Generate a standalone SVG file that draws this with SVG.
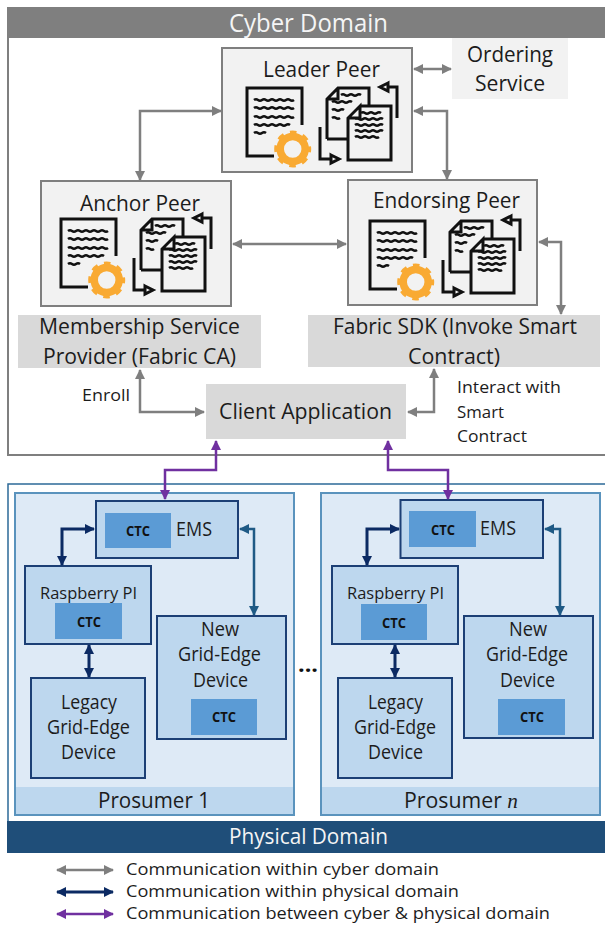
<svg xmlns="http://www.w3.org/2000/svg" width="605" height="928" viewBox="0 0 605 928">
<style>
text{font-family:"Open Sans","Noto Sans","Liberation Sans",sans-serif;fill:#1c1c1c}
.peer{fill:#f2f2f2;stroke:#7f7f7f;stroke-width:2}
.svc{fill:#d9d9d9}
.dev{fill:#bdd7ee;stroke:#1c3f75;stroke-width:2}
.ctc{fill:#5b9bd5}
.pro{fill:#deeaf6;stroke:#5a93bd;stroke-width:2}
.foot{fill:#bdd7ee}
.t20{font-size:21.500px}.t18{font-size:19.500px}.t16{font-size:17px}
.b{font-size:14px;font-weight:700;fill:#111}
.con{fill:none;stroke-width:2.5}
.g{stroke:#7f7f7f;marker-start:url(#ag);marker-end:url(#ag)}
.n{stroke:#0b2a63;marker-start:url(#an);marker-end:url(#an);stroke-width:3}
.u{stroke:#1f5a85;marker-start:url(#au);marker-end:url(#au)}
.p{stroke:#7030a0;marker-start:url(#ap);marker-end:url(#ap)}
.ink{fill:none;stroke:#111;stroke-width:3}
.wav{fill:none;stroke:#111;stroke-width:2.600}
</style>
<defs>
<marker id="ag" markerUnits="userSpaceOnUse" markerWidth="12" markerHeight="12" refX="9" refY="5" orient="auto-start-reverse"><path d="M0,0L10,5L0,10Z" fill="#7f7f7f"/></marker>
<marker id="an" markerUnits="userSpaceOnUse" markerWidth="12" markerHeight="12" refX="9" refY="5" orient="auto-start-reverse"><path d="M0,0L10,5L0,10Z" fill="#0b2a63"/></marker>
<marker id="au" markerUnits="userSpaceOnUse" markerWidth="12" markerHeight="12" refX="9" refY="5" orient="auto-start-reverse"><path d="M0,0L10,5L0,10Z" fill="#1f5a85"/></marker>
<marker id="ap" markerUnits="userSpaceOnUse" markerWidth="12" markerHeight="12" refX="9" refY="5" orient="auto-start-reverse"><path d="M0,0L10,5L0,10Z" fill="#7030a0"/></marker>
<g id="peer-icon">
<path class="ink" d="M27,68H0V0H55V37"/>
<path class="wav" d="M7,12q2,-1.500 4,0t4,0t4,0t4,0t4,0t4,0t4,0t4,0t4,0t4,0M7,20q2,-1.500 4,0t4,0t4,0t4,0t4,0t4,0t4,0t4,0t4,0t4,0M7,29q2,-1.500 4,0t4,0t4,0t4,0t4,0t4,0t4,0t4,0t4,0t4,0M7,37q2,-1.500 4,0t4,0t4,0t4,0t4,0t4,0t4,0t4,0t4,0M7,45q2,-1.500 4,0t4,0t4,0"/>
<circle cx="45.700" cy="61" r="12.500" fill="#f2f2f2" stroke="#f9aa33" stroke-width="7.500"/>
<circle cx="45.700" cy="61" r="16.500" fill="none" stroke="#f9aa33" stroke-width="4" stroke-dasharray="6.480 6.480" stroke-dashoffset="3.240"/>
<path class="ink" d="M80,51V11L91,0H122V17M80,11H91V0M80,51H101"/>
<path class="wav" d="M94,7q2,-1.500 4,0t4,0t4,0t4,0t4,0M85,14q2,-1.500 4,0t4,0t4,0t4,0t4,0M85,22q2,-1.500 4,0t4,0t4,0M85,30q2,-1.500 4,0t4,0"/>
<path class="ink" d="M113,18H144V72H101V30L113,18V30H101"/>
<path class="wav" d="M114,25q2,-1.500 4,0t4,0t4,0t4,0t4,0M108,31q2,-1.500 4,0t4,0t4,0t4,0t4,0t4,0t4,0M108,37q2,-1.500 4,0t4,0t4,0t4,0t4,0t4,0t4,0M108,43q2,-1.500 4,0t4,0t4,0t4,0t4,0t4,0t4,0M108,49q2,-1.500 4,0t4,0t4,0t4,0t4,0t4,0M110,55"/>
<path class="ink" d="M150,30V-1H141M141,-5L133,-1L141,3ZM73,39V71H84M84,67L92,71L84,75Z"/>
</g>
</defs>

<g id="cyber-domain">
<rect x="8" y="8" width="599" height="447" fill="#fff" stroke="#7f7f7f" stroke-width="2"/>
<rect x="8" y="7" width="597" height="31" fill="#7f7f7f"/>
<text x="229" y="32" font-size="25" textLength="159" lengthAdjust="spacingAndGlyphs" style="fill:#f5f5f5">Cyber Domain</text>
</g>

<g id="physical-domain">
<rect x="8" y="484" width="599" height="340" fill="#fff" stroke="#2d6a98" stroke-width="1.500"/>
<rect x="7" y="821" width="598" height="32" fill="#1f4e79"/>
<text x="229" y="844" font-size="21.500" textLength="159" lengthAdjust="spacingAndGlyphs" style="fill:#f5f5f5">Physical Domain</text>
</g>

<g id="prosumer-1">
<rect class="pro" x="15" y="493" width="279" height="322"/>
<rect class="foot" x="16" y="787" width="277" height="27"/>
<text class="t20" x="98" y="808" textLength="112" lengthAdjust="spacingAndGlyphs">Prosumer 1</text>
</g>
<g id="prosumer-n">
<rect class="pro" x="321" y="493" width="279" height="322"/>
<rect class="foot" x="322" y="787" width="277" height="27"/>
<text class="t20" x="404" y="808" textLength="114" lengthAdjust="spacingAndGlyphs">Prosumer <tspan font-family="Liberation Serif" font-style="italic">n</tspan></text>
</g>

<g id="leader-peer">
<rect class="peer" x="222" y="48" width="190" height="124"/>
<text class="t20" x="263" y="77" textLength="117" lengthAdjust="spacingAndGlyphs">Leader Peer</text>
<use href="#peer-icon" x="247" y="88"/>
</g>
<g id="ordering-service">
<rect x="452" y="38" width="116" height="61" fill="#f2f2f2"/>
<text class="t20" x="467" y="62" textLength="86" lengthAdjust="spacingAndGlyphs">Ordering</text>
<text class="t20" x="475" y="91" textLength="70" lengthAdjust="spacingAndGlyphs">Service</text>
</g>
<g id="anchor-peer">
<rect class="peer" x="41" y="181" width="190" height="125"/>
<text class="t20" x="80" y="211" textLength="120" lengthAdjust="spacingAndGlyphs">Anchor Peer</text>
<use href="#peer-icon" x="61" y="219"/>
</g>
<g id="endorsing-peer">
<rect class="peer" x="348" y="180" width="189" height="125"/>
<text class="t20" x="373" y="208" textLength="147" lengthAdjust="spacingAndGlyphs">Endorsing Peer</text>
<use href="#peer-icon" x="370" y="221"/>
</g>
<g id="membership-service-provider">
<rect class="svc" x="18" y="315" width="243" height="53"/>
<text class="t20" x="39" y="334" textLength="201" lengthAdjust="spacingAndGlyphs">Membership Service</text>
<text class="t20" x="43" y="364" textLength="193" lengthAdjust="spacingAndGlyphs">Provider (Fabric CA)</text>
</g>
<g id="fabric-sdk">
<rect class="svc" x="308" y="315" width="292" height="52"/>
<text class="t20" x="333" y="334" textLength="244" lengthAdjust="spacingAndGlyphs">Fabric SDK (Invoke Smart</text>
<text class="t20" x="408" y="364" textLength="92" lengthAdjust="spacingAndGlyphs">Contract)</text>
</g>
<g id="client-application">
<rect class="svc" x="206" y="384" width="200" height="55"/>
<text class="t20" x="219" y="419" textLength="173" lengthAdjust="spacingAndGlyphs">Client Application</text>
</g>

<g id="ems-1">
<rect class="dev" x="96" y="501" width="142" height="57"/>
<rect class="ctc" x="105" y="513" width="66" height="35"/>
<text class="b" x="126" y="536" textLength="24" lengthAdjust="spacingAndGlyphs">CTC</text>
<text class="t18" x="176" y="536" textLength="36" lengthAdjust="spacingAndGlyphs">EMS</text>
</g>
<g id="raspberry-pi-1">
<rect class="dev" x="25" y="566" width="126" height="78"/>
<rect class="ctc" x="55" y="603" width="67" height="36"/>
<text class="t16" x="40" y="599" textLength="97" lengthAdjust="spacingAndGlyphs">Raspberry PI</text>
<text class="b" x="77" y="627" textLength="24" lengthAdjust="spacingAndGlyphs">CTC</text>
</g>
<g id="legacy-device-1">
<rect class="dev" x="31" y="678" width="114" height="100"/>
<text class="t18" x="61" y="709" textLength="56" lengthAdjust="spacingAndGlyphs">Legacy</text>
<text class="t18" x="47" y="734" textLength="83" lengthAdjust="spacingAndGlyphs">Grid-Edge</text>
<text class="t18" x="61" y="759" textLength="55" lengthAdjust="spacingAndGlyphs">Device</text>
</g>
<g id="new-device-1">
<rect class="dev" x="157" y="616" width="129" height="123"/>
<rect class="ctc" x="191" y="699" width="66" height="36"/>
<text class="t18" x="201" y="636" textLength="38" lengthAdjust="spacingAndGlyphs">New</text>
<text class="t18" x="178" y="661" textLength="83" lengthAdjust="spacingAndGlyphs">Grid-Edge</text>
<text class="t18" x="193" y="687" textLength="55" lengthAdjust="spacingAndGlyphs">Device</text>
<text class="b" x="212" y="722" textLength="24" lengthAdjust="spacingAndGlyphs">CTC</text>
</g>

<g id="ems-n">
<rect class="dev" x="400.500" y="500" width="142.500" height="58"/>
<rect class="ctc" x="409" y="511" width="67" height="36"/>
<text class="b" x="431" y="535" textLength="24" lengthAdjust="spacingAndGlyphs">CTC</text>
<text class="t18" x="480" y="535" textLength="36" lengthAdjust="spacingAndGlyphs">EMS</text>
</g>
<g id="raspberry-pi-n">
<rect class="dev" x="332" y="566" width="126" height="78"/>
<rect class="ctc" x="361" y="604" width="66" height="36"/>
<text class="t16" x="347" y="599" textLength="97" lengthAdjust="spacingAndGlyphs">Raspberry PI</text>
<text class="b" x="382" y="628" textLength="24" lengthAdjust="spacingAndGlyphs">CTC</text>
</g>
<g id="legacy-device-n">
<rect class="dev" x="338" y="678" width="114" height="100"/>
<text class="t18" x="368" y="709" textLength="55" lengthAdjust="spacingAndGlyphs">Legacy</text>
<text class="t18" x="354" y="734" textLength="82" lengthAdjust="spacingAndGlyphs">Grid-Edge</text>
<text class="t18" x="368" y="759" textLength="55" lengthAdjust="spacingAndGlyphs">Device</text>
</g>
<g id="new-device-n">
<rect class="dev" x="464" y="616" width="129" height="122"/>
<rect class="ctc" x="498" y="699" width="67" height="36"/>
<text class="t18" x="509" y="636" textLength="38" lengthAdjust="spacingAndGlyphs">New</text>
<text class="t18" x="486" y="661" textLength="82" lengthAdjust="spacingAndGlyphs">Grid-Edge</text>
<text class="t18" x="500" y="687" textLength="55" lengthAdjust="spacingAndGlyphs">Device</text>
<text class="b" x="520" y="722" textLength="24" lengthAdjust="spacingAndGlyphs">CTC</text>
</g>

<g id="connectors">
<path class="con g" d="M140,180V111H221"/>
<path class="con g" d="M414,69H451"/>
<path class="con g" d="M414,111H447V179"/>
<path class="con g" d="M233,244H346"/>
<path class="con g" d="M539,242H561V314"/>
<path class="con g" d="M140,370V412H204"/>
<path class="con g" d="M434,369V412H408"/>
<path class="con p" d="M216,441V470H165V499"/>
<path class="con p" d="M388,441V470H448V499"/>
<path class="con n" d="M94,529H62V565"/>
<path class="con u" d="M240,529H254V615"/>
<path class="con n" d="M89,645V677"/>
<path class="con n" d="M399,529H367V565"/>
<path class="con u" d="M545,529H560V615"/>
<path class="con n" d="M395,645V677"/>
</g>

<g id="labels">
<text class="t16" x="82" y="401" textLength="48" lengthAdjust="spacingAndGlyphs">Enroll</text>
<text class="t16" x="457" y="393" textLength="104" lengthAdjust="spacingAndGlyphs">Interact with</text>
<text class="t16" x="457" y="418" textLength="47" lengthAdjust="spacingAndGlyphs">Smart</text>
<text class="t16" x="457" y="442" textLength="70" lengthAdjust="spacingAndGlyphs">Contract</text>
<text x="298" y="672" font-size="22" font-weight="700" textLength="20" lengthAdjust="spacingAndGlyphs" style="fill:#111">...</text>
</g>

<g id="legend">
<path class="con g" d="M57,870H113"/>
<path class="con n" stroke-width="2.500" d="M57,892H113"/>
<path class="con p" d="M57,914H113"/>
<text class="t16" x="126" y="875" textLength="313" lengthAdjust="spacingAndGlyphs">Communication within cyber domain</text>
<text class="t16" x="126" y="897" textLength="333" lengthAdjust="spacingAndGlyphs">Communication within physical domain</text>
<text class="t16" x="126" y="919" textLength="424" lengthAdjust="spacingAndGlyphs">Communication between cyber &amp; physical domain</text>
</g>
</svg>
